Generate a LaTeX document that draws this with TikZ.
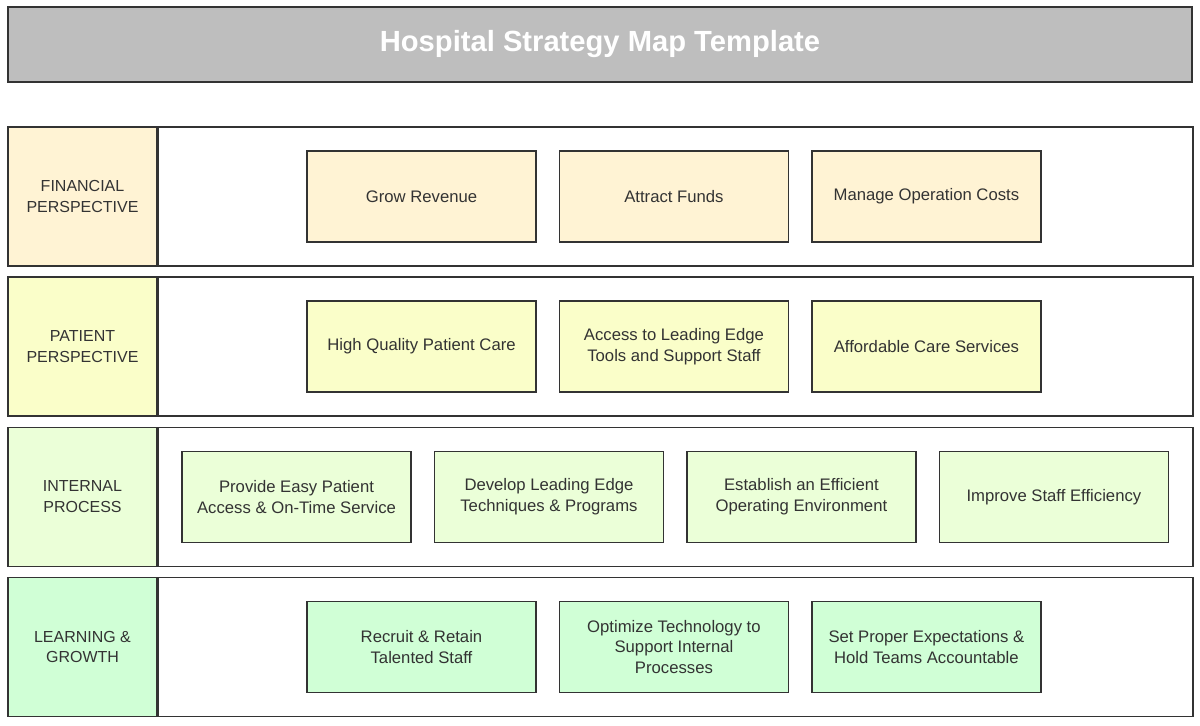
\documentclass[tikz,border=0pt]{standalone}
\usepackage{fontspec}
\setmainfont{Liberation Sans}
\usepackage{tikz}
\usetikzlibrary{positioning}

\definecolor{finfill}{HTML}{FFF3D4}
\definecolor{patfill}{HTML}{FAFEC9}
\definecolor{intfill}{HTML}{EBFFD8}
\definecolor{lrnfill}{HTML}{D0FFD6}
\definecolor{titlefill}{HTML}{BEBEBE}
\definecolor{edge}{HTML}{333333}

\begin{document}
\begin{tikzpicture}[x=0.02cm, y=-0.02cm, node distance={50.5mm},
    title/.style = {draw=edge, line width=0.8pt, fill=titlefill, text=white, minimum width=23.68cm, minimum height=1.5cm, inner sep=0pt, font=\fontsize{16.6}{19}\selectfont\bfseries},
    lane/.style = {draw=edge, line width=0.8pt, minimum width=2.98cm, minimum height=2.78cm, inner sep=0pt, align=center, text=edge, font=\fontsize{9.1}{11.9}\selectfont},
    body/.style = {draw=edge, line width=0.8pt, fill=white, minimum width=20.7cm, minimum height=2.78cm, inner sep=0pt},
    obj/.style = {draw=edge, line width=0.8pt, minimum width=4.58cm, minimum height=1.82cm, inner sep=0pt, align=center, text=edge, font=\fontsize{9.5}{11.9}\selectfont}]
    \useasboundingbox (0,0) rectangle (1200,725);

    \node[title](title) at (600,44.5){Hospital Strategy Map Template};

    % perspectives
    \node[lane, fill=finfill](fin) at (82.5,196.5){FINANCIAL\\PERSPECTIVE};
    \node[body](finbody)[right=0pt of fin]{};
    \node[lane, fill=patfill](pat) at (82.5,346.5){PATIENT\\PERSPECTIVE};
    \node[body](patbody)[right=0pt of pat]{};
    \node[lane, fill=intfill](int) at (82.5,497){INTERNAL\\PROCESS};
    \node[body](intbody)[right=0pt of int]{};
    \node[lane, fill=lrnfill](lrn) at (82.5,647){LEARNING \&\\GROWTH};
    \node[body](lrnbody)[right=0pt of lrn]{};

    % objectives
    \node[obj, fill=finfill](revenue) at (421.5,196.5){Grow Revenue};
    \node[obj, fill=finfill](funds)[right of =revenue]{Attract Funds};
    \node[obj, fill=finfill](costs)[right of =funds]{Manage Operation Costs};

    \node[obj, fill=patfill](care) at (421.5,346.5){High Quality Patient Care};
    \node[obj, fill=patfill](tools)[right of =care]{Access to Leading Edge\\Tools and Support Staff};
    \node[obj, fill=patfill](afford)[right of =tools]{Affordable Care Services};

    \node[obj, fill=intfill](access) at (296.5,497){Provide Easy Patient\\Access \& On-Time Service};
    \node[obj, fill=intfill](techniques)[right of =access]{Develop Leading Edge\\Techniques \& Programs};
    \node[obj, fill=intfill](environment)[right of =techniques]{Establish an Efficient\\Operating Environment};
    \node[obj, fill=intfill](efficiency)[right of =environment]{Improve Staff Efficiency};

    \node[obj, fill=lrnfill](recruit) at (421.5,647){Recruit \& Retain\\Talented Staff};
    \node[obj, fill=lrnfill](technology)[right of =recruit]{Optimize Technology to\\Support Internal\\Processes};
    \node[obj, fill=lrnfill](teams)[right of =technology]{Set Proper Expectations \&\\Hold Teams Accountable};
\end{tikzpicture}
\end{document}
